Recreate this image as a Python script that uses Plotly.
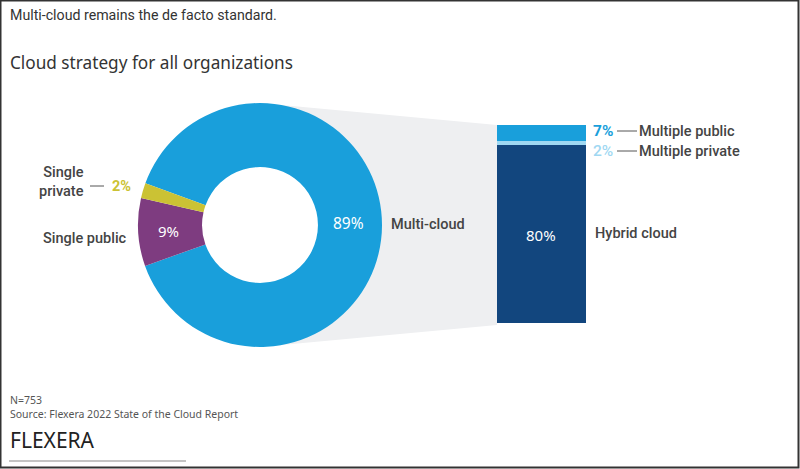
import plotly.graph_objects as go

W, H = 800, 469

# ---- data ----
pie_labels = ["Multi-cloud", "Single public", "Single private"]
pie_values = [89, 9, 2]
pie_colors = ["#199fdb", "#7e3c80", "#cbc234"]

bar_labels = ["Hybrid cloud", "Multiple private", "Multiple public"]
bar_values = [80, 2, 7]
bar_colors = ["#12467e", "#9fd8f2", "#199fdb"]

title_text = "Multi-cloud remains the de facto standard."
subtitle_text = "Cloud strategy for all organizations"
note_n = "N=753"
note_source = "Source: Flexera 2022 State of the Cloud Report"


def px(x):
    return x / W


def py(y):
    return 1 - y / H


FONT = "Noto Sans"
LFONT = "Roboto"
DARK = "#3a3a3a"

fig = go.Figure()

# donut
cx, cy, r = 260, 225, 122
hole = 0.475
fig.add_trace(go.Pie(
    labels=pie_labels, values=pie_values, sort=False,
    direction="clockwise", rotation=-70, hole=hole,
    marker=dict(colors=pie_colors, line=dict(width=0)),
    textinfo="none", hoverinfo="label+percent", showlegend=False,
    domain=dict(x=[px(cx - r), px(cx + r)], y=[py(cy + r), py(cy - r)]),
))

# stacked bar
bar_left, bar_right, bar_top, bar_bottom = 497, 586, 125, 323
for lab, val, col in zip(bar_labels, bar_values, bar_colors):
    fig.add_trace(go.Bar(
        x=[0], y=[val], name=lab, width=1,
        marker=dict(color=col, line=dict(width=0)),
        showlegend=False, hoverinfo="name+y",
    ))

fig.update_layout(
    barmode="stack",
    width=W, height=H,
    margin=dict(l=0, r=0, t=0, b=0),
    paper_bgcolor="white", plot_bgcolor="rgba(0,0,0,0)",
    xaxis=dict(domain=[px(bar_left), px(bar_right)], range=[-0.5, 0.5],
               visible=False, fixedrange=True),
    yaxis=dict(domain=[py(bar_bottom), py(bar_top)], range=[0, sum(bar_values)],
               visible=False, fixedrange=True),
    font=dict(family=FONT, color=DARK),
)

shapes = []
# gray connector
shapes.append(dict(
    type="path", xref="paper", yref="paper", layer="below",
    path=(f"M {px(cx)} {py(cy - r)} L {px(bar_left)} {py(bar_top)} "
          f"L {px(bar_left)} {py(bar_bottom + 2)} L {px(cx)} {py(cy + r)} Z"),
    fillcolor="#eeeff1", line=dict(width=0),
))
# white fill of the donut hole (covers connector)
ri = r * hole + 2
shapes.append(dict(type="circle", xref="paper", yref="paper", layer="below",
                   x0=px(cx - ri), x1=px(cx + ri), y0=py(cy + ri), y1=py(cy - ri),
                   fillcolor="white", line=dict(width=0)))
# leader lines
for (x0, x1, y) in [(90, 104, 186), (617, 637, 131), (617, 637, 151)]:
    shapes.append(dict(type="line", xref="paper", yref="paper",
                       x0=px(x0), x1=px(x1), y0=py(y), y1=py(y),
                       line=dict(color="#555555", width=1)))
# bottom rule
shapes.append(dict(type="line", xref="paper", yref="paper",
                   x0=px(9), x1=px(186), y0=py(461), y1=py(461),
                   line=dict(color="#b0b0b0", width=1.5)))
# frame
shapes.append(dict(type="rect", xref="paper", yref="paper",
                   x0=px(0.5), x1=px(798.5), y0=py(467.5), y1=py(0.5),
                   line=dict(color="#333333", width=2)))
fig.update_layout(shapes=shapes)

ann = []


def add(text, x, y, size, color=DARK, xanchor="left", align="left",
        weight="normal", family=LFONT):
    ann.append(dict(text=text, x=px(x), y=py(y), xref="paper", yref="paper",
                    xanchor=xanchor, yanchor="middle", align=align,
                    showarrow=False,
                    font=dict(size=size, color=color, family=family, weight=weight)))


add(title_text, 8, 15, 14.2, "#333333", family="Roboto")
add(subtitle_text, 8, 62, 17.2, "#333333", family=FONT)

# donut labels
add("Single<br>private", 86, 182, 14.5, "#444444", xanchor="right", align="right", weight=500)
add(f"{pie_values[2]}%", 110, 186, 14.5, pie_colors[2], weight="bold")
add(pie_labels[1], 129, 238, 14.5, "#444444", xanchor="right", align="right", weight=500)
add(f"{pie_values[1]}%", 168, 231, 15, "white", xanchor="center", family=FONT)
add(f"{pie_values[0]}%", 348, 223, 15.5, "white", xanchor="center", family=FONT)
add(pie_labels[0], 389, 224, 14.5, "#444444", weight=500)

# bar labels
add(f"{bar_values[0]}%", 541, 235, 15, "white", xanchor="center", family=FONT)
add(bar_labels[0], 593, 234, 14.5, "#444444", weight=500)
add(f"{bar_values[2]}%", 591, 131, 15.5, bar_colors[2], weight="bold")
add(bar_labels[2], 637, 131, 14.5, "#444444", weight=500)
add(f"{bar_values[1]}%", 591, 151, 15.5, bar_colors[1], weight=500)
add(bar_labels[1], 637, 152, 14.5, "#444444", weight=500)

# notes
add(note_n, 8, 400, 10.5, "#555555", family=FONT)
add(note_source, 8, 414, 10.5, "#555555", family=FONT)
add("FLEXERA", 8, 440, 21, "#222222", family=FONT)

fig.update_layout(annotations=ann)

fig.write_html("out.html", config={"displayModeBar": False},
               post_script="document.body.style.margin='0';")
